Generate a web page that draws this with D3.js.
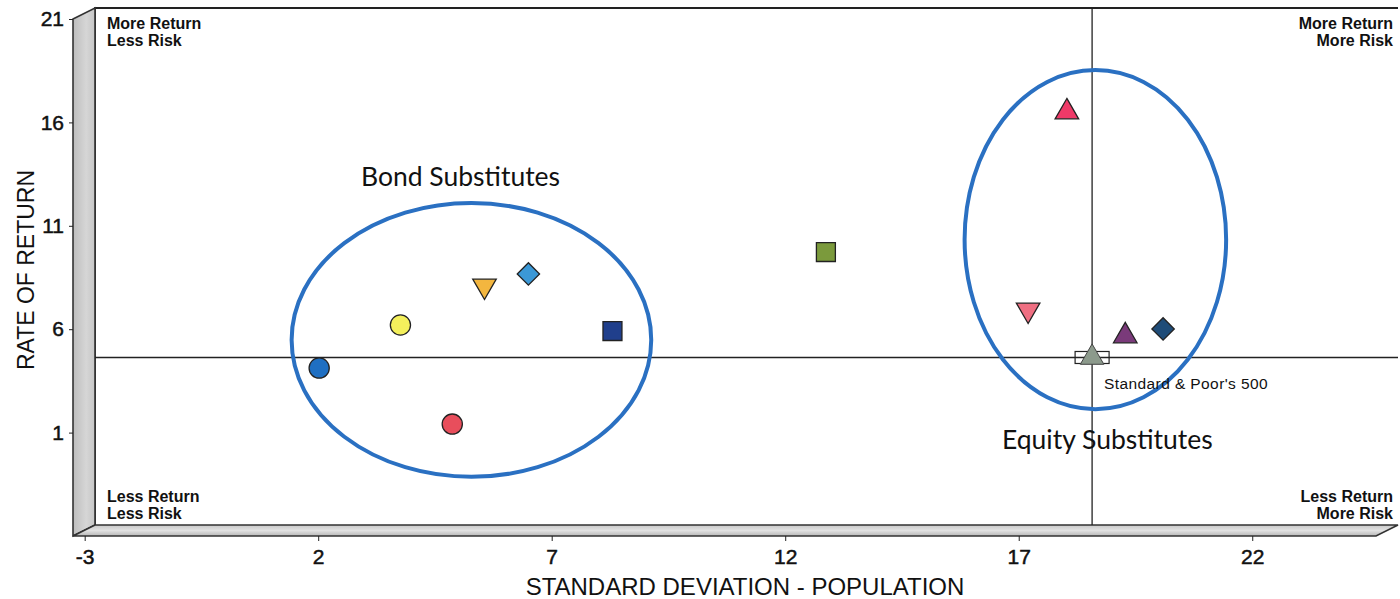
<!DOCTYPE html>
<html>
<head>
<meta charset="utf-8">
<script src="https://cdn.jsdelivr.net/npm/d3@7"></script>
<style>
  html, body { margin: 0; padding: 0; background: #ffffff; }
  svg { display: block; }
  text { font-family: "Liberation Sans", Arial, sans-serif; fill: #111; }
</style>
</head>
<body>
<svg id="chart" width="1400" height="599"></svg>
<script>
// ---------- data ----------
const xTicks = [-3, 2, 7, 12, 17, 22];
const yTicks = [1, 6, 11, 16, 21];
const xDomain = [-3.25, 24.65];
const yDomain = [-4, 21];

// standard deviation (x) and rate of return (y) for each holding
const stdDev   = [1.55, 3.29, 5.09, 6.03, 7.83, 4.40, 12.40, 17.56, 16.73, 18.81, 19.62];
const returns  = [3.59, 5.67, 7.56, 8.14, 5.38, 0.88, 9.20, 15.97, 6.40, 5.14, 5.48];
const shapes   = ["circle", "circle", "down", "diamond", "square", "circle", "square", "up", "down", "up", "diamond"];
const colors   = ["#1f6fc2", "#f4f05c", "#f3b63f", "#3b98d6", "#203f8c", "#e84e5c", "#7b9a3c", "#ef3a68", "#ef6f82", "#7a3a7a", "#1f4c78"];

// benchmark
const benchName = "Standard & Poor's 500";
const benchStd = 18.10;
const benchRet = 4.10;

// groupings (ellipses): center and radii in data units
const groupNames = ["Bond Substitutes", "Equity Substitutes"];
const groupCx = [4.81, 18.17];
const groupCy = [4.95, 9.80];
const groupRx = [3.85, 2.80];
const groupRy = [6.62, 8.20];

const quadrantLabels = [["More Return", "Less Risk"], ["More Return", "More Risk"], ["Less Return", "Less Risk"], ["Less Return", "More Risk"]];

// ---------- layout ----------
const svg = d3.select("#chart");
const front = { left: 73, right: 1376, top: 19, bottom: 536 };
const depth = { dx: 22, dy: -11 };

const xFront = d3.scaleLinear().domain(xDomain).range([front.left, front.right]);
const yFront = d3.scaleLinear().domain(yDomain).range([front.bottom, front.top]);
// back plane scales (where the data sit)
const x = d3.scaleLinear().domain(xDomain).range([front.left + depth.dx, front.right + depth.dx]);
const y = d3.scaleLinear().domain(yDomain).range([front.bottom + depth.dy, front.top + depth.dy]);

const defs = svg.append("defs");
const gWall = defs.append("linearGradient").attr("id", "wallGrad").attr("x1", 0).attr("x2", 1).attr("y1", 0).attr("y2", 0);
gWall.append("stop").attr("offset", "0%").attr("stop-color", "#bdbdbd");
gWall.append("stop").attr("offset", "60%").attr("stop-color", "#d6d6d6");
gWall.append("stop").attr("offset", "100%").attr("stop-color", "#c6c6c6");
const gFloor = defs.append("linearGradient").attr("id", "floorGrad").attr("x1", 0).attr("x2", 0).attr("y1", 0).attr("y2", 1);
gFloor.append("stop").attr("offset", "0%").attr("stop-color", "#c8c8c8");
gFloor.append("stop").attr("offset", "50%").attr("stop-color", "#e2e2e2");
gFloor.append("stop").attr("offset", "100%").attr("stop-color", "#b8b8b8");

const L = x.range()[0], R = x.range()[1], T = y.range()[1], B = y.range()[0];

// back wall border (top + left)
svg.append("path")
  .attr("d", `M${L},${B} L${L},${T} L${R},${T}`)
  .attr("fill", "none").attr("stroke", "#222").attr("stroke-width", 1.8);

// left side wall
svg.append("path")
  .attr("d", `M${front.left},${front.top} L${L},${T} L${L},${B} L${front.left},${front.bottom} Z`)
  .attr("fill", "url(#wallGrad)").attr("stroke", "#333").attr("stroke-width", 1.6);

// floor
svg.append("path")
  .attr("d", `M${front.left},${front.bottom} L${L},${B} L${R},${B} L${front.right},${front.bottom} Z`)
  .attr("fill", "url(#floorGrad)").attr("stroke", "#333").attr("stroke-width", 1.6);

// axes on the front edges
const fmt = d => String(d);
const xAxis = d3.axisBottom(xFront).tickValues(xTicks).tickSize(5).tickPadding(8).tickFormat(fmt);
const gx = svg.append("g").attr("transform", `translate(0,${front.bottom})`).call(xAxis);
gx.select(".domain").remove();
gx.selectAll("line").attr("stroke", "#222");
gx.selectAll("text").style("font-size", "21px").attr("fill", "#111")
  .attr("stroke", "#111").attr("stroke-width", 0.5);

const yAxis = d3.axisLeft(yFront).tickValues(yTicks).tickSize(4).tickPadding(5).tickFormat(fmt);
const gy = svg.append("g").attr("transform", `translate(${front.left},0)`).call(yAxis);
gy.select(".domain").remove();
gy.selectAll("line").attr("stroke", "#222");
gy.selectAll("text").style("font-size", "21px").attr("fill", "#111")
  .attr("stroke", "#111").attr("stroke-width", 0.5);

// axis titles
svg.append("text")
  .attr("x", 745).attr("y", 595).attr("text-anchor", "middle")
  .style("font-size", "24px").text("STANDARD DEVIATION - POPULATION");
svg.append("text")
  .attr("transform", "translate(34,270) rotate(-90)").attr("text-anchor", "middle")
  .style("font-size", "23px").text("RATE OF RETURN");

// quadrant labels
const qPos = [
  { x: L + 12, y: T + 21, anchor: "start" },
  { x: R - 5, y: T + 21, anchor: "end" },
  { x: L + 12, y: B - 23, anchor: "start" },
  { x: R - 5, y: B - 23, anchor: "end" }
];
quadrantLabels.forEach((lines, i) => {
  const t = svg.append("text").attr("text-anchor", qPos[i].anchor)
    .style("font-size", "16px").style("font-weight", "bold").attr("fill", "#222");
  lines.forEach((s, j) => t.append("tspan").attr("x", qPos[i].x).attr("y", qPos[i].y + j * 17).text(s));
});

// benchmark box (behind lines)
svg.append("rect")
  .attr("x", x(benchStd) - 17).attr("y", y(benchRet) - 6)
  .attr("width", 34).attr("height", 12)
  .attr("fill", "#fff").attr("stroke", "#222").attr("stroke-width", 1.2);

// reference lines through benchmark
svg.append("line")
  .attr("x1", L).attr("x2", R).attr("y1", y(benchRet)).attr("y2", y(benchRet))
  .attr("stroke", "#222").attr("stroke-width", 1.5);
svg.append("line")
  .attr("x1", x(benchStd)).attr("x2", x(benchStd)).attr("y1", T).attr("y2", B)
  .attr("stroke", "#222").attr("stroke-width", 1.3);

// group ellipses
groupNames.forEach((n, i) => {
  svg.append("ellipse")
    .attr("cx", x(groupCx[i])).attr("cy", y(groupCy[i]))
    .attr("rx", x(groupCx[i] + groupRx[i]) - x(groupCx[i]))
    .attr("ry", y(groupCy[i]) - y(groupCy[i] + groupRy[i]))
    .attr("fill", "none").attr("stroke", "#2a70c2").attr("stroke-width", 4);
});

// group labels
svg.append("text").attr("x", 361).attr("y", 186)
  .style("font-family", "Lato, 'Open Sans', sans-serif").style("font-size", "26.5px").attr("fill", "#111")
  .text(groupNames[0]);
svg.append("text").attr("x", 1002).attr("y", 449)
  .style("font-family", "Lato, 'Open Sans', sans-serif").style("font-size", "26.5px").attr("fill", "#111")
  .text(groupNames[1]);

// points
const symbolFor = s => {
  if (s === "circle") return d3.symbol().type(d3.symbolCircle).size(320)();
  if (s === "square") return d3.symbol().type(d3.symbolSquare).size(360)();
  if (s === "diamond") return d3.symbol().type(d3.symbolSquare).size(250)();
  return d3.symbol().type(d3.symbolTriangle).size(240)();
};
const rotFor = s => s === "down" ? 180 : (s === "diamond" ? 45 : 0);

svg.append("g").selectAll("path.pt")
  .data(stdDev.map((d, i) => ({ sd: d, r: returns[i], shape: shapes[i], color: colors[i] })))
  .join("path")
  .attr("class", "pt")
  .attr("d", d => symbolFor(d.shape))
  .attr("transform", d => `translate(${x(d.sd)},${y(d.r)}) rotate(${rotFor(d.shape)})`)
  .attr("fill", d => d.color)
  .attr("stroke", "#222").attr("stroke-width", 1.3);

// benchmark triangle + label
svg.append("path")
  .attr("d", d3.symbol().type(d3.symbolTriangle).size(240)())
  .attr("transform", `translate(${x(benchStd)},${y(benchRet)})`)
  .attr("fill", "#8c9a8c").attr("stroke", "#444").attr("stroke-width", 1);
svg.append("text")
  .attr("x", x(benchStd) + 12).attr("y", y(benchRet) + 32)
  .style("font-size", "15.5px").attr("fill", "#111").attr("letter-spacing", "0.4")
  .text(benchName);
</script>
</body>
</html>
